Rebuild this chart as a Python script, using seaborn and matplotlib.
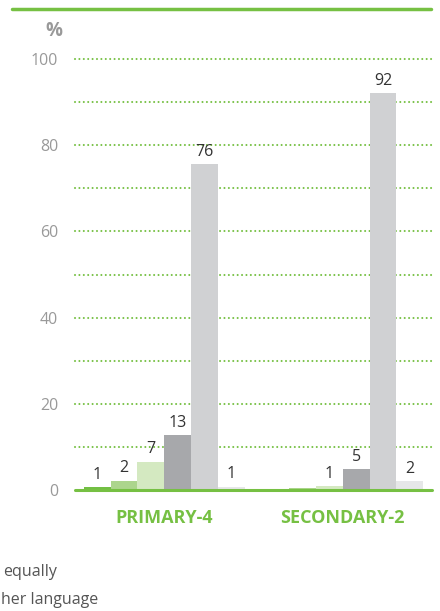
import pandas as pd
import numpy as np
import matplotlib
matplotlib.use('Agg')
import matplotlib.pyplot as plt
import seaborn as sns
from matplotlib.lines import Line2D

# Data
GROUPS = ['PRIMARY-4', 'SECONDARY-2']
SERIES = ['Series 1', 'Series 2', 'Series 3', 'Series 4', 'Series 5', 'Series 6']
PRIMARY = [0.7, 2.2, 6.6, 12.8, 75.6, 0.8]
SECONDARY = [0.2, 0.4, 0.9, 4.9, 92.1, 2.1]
Y_TICKS = [0, 20, 40, 60, 80, 100]
LEGEND_TAILS = ['equally', 'her language']

COLORS = ['#72bf44', '#acd58d', '#d4e9c1', '#a7a8ab', '#d0d1d3', '#e6e7e8']
GREEN = '#76c043'
GREY_TEXT = '#999999'

df = pd.DataFrame({
    'group': np.repeat(GROUPS, len(SERIES)),
    'series': SERIES * len(GROUPS),
    'value': PRIMARY + SECONDARY,
})

sns.set_theme(style='white')
plt.rcParams['font.family'] = ['Open Sans', 'DejaVu Sans']

fig = plt.figure(figsize=(4.4, 6.11), dpi=100)
ax = fig.add_axes([75 / 440, 1 - 490 / 611, 357 / 440, 431 / 611])

# dotted green grid every 10
for y in range(10, 101, 10):
    ax.axhline(y, color=GREEN, lw=1.5, linestyle=(0, (0.01, 2.1)),
               dash_capstyle='round', zorder=0, clip_on=False)

sns.barplot(data=df, x='group', y='value', hue='series', order=GROUPS,
            hue_order=SERIES, palette=COLORS, width=0.9, saturation=1,
            edgecolor='none', linewidth=0, legend=False, ax=ax, zorder=2)

ax.axhline(0, color=GREEN, lw=2.2, zorder=3, clip_on=False)

# value labels (values below 0.5 are not labelled)
for cont, name in zip(ax.containers, SERIES):
    vals = df.loc[df['series'] == name, 'value'].tolist()
    labels = [f'{round(v):d}' if round(v) >= 1 else '' for v in vals]
    ax.bar_label(cont, labels=labels, padding=3, fontsize=11.5, color='#333333')

ax.set_ylim(0, 100)
ax.set_xlim(-0.5, 1.5)
ax.set_yticks(Y_TICKS)
ax.set_yticklabels([str(t) for t in Y_TICKS], fontsize=11.5, color=GREY_TEXT)
ax.tick_params(axis='y', length=0, pad=12)
ax.tick_params(axis='x', length=0, pad=14)
for lbl in ax.get_xticklabels():
    lbl.set_fontsize(13)
    lbl.set_fontweight('bold')
    lbl.set_color(GREEN)
ax.set_xlabel('')
ax.set_ylabel('')
sns.despine(ax=ax, left=True, bottom=True)

# top rule and unit label
fig.add_artist(Line2D([12 / 440, 431 / 440], [1 - 9 / 611, 1 - 9 / 611],
                      color=GREEN, lw=2.5))
fig.text(62 / 440, 1 - 31 / 611, '%', ha='right', va='center',
         fontsize=13.5, fontweight='bold', color=GREY_TEXT)

# cropped legend text at the bottom
fig.text(3 / 440, 1 - 572 / 611, LEGEND_TAILS[0], ha='left', va='center',
         fontsize=11.5, color='#555555')
fig.text(1 / 440, 1 - 600 / 611, LEGEND_TAILS[1], ha='left', va='center',
         fontsize=11.5, color='#555555')

fig.savefig('out.png', dpi=100)
plt.close(fig)
